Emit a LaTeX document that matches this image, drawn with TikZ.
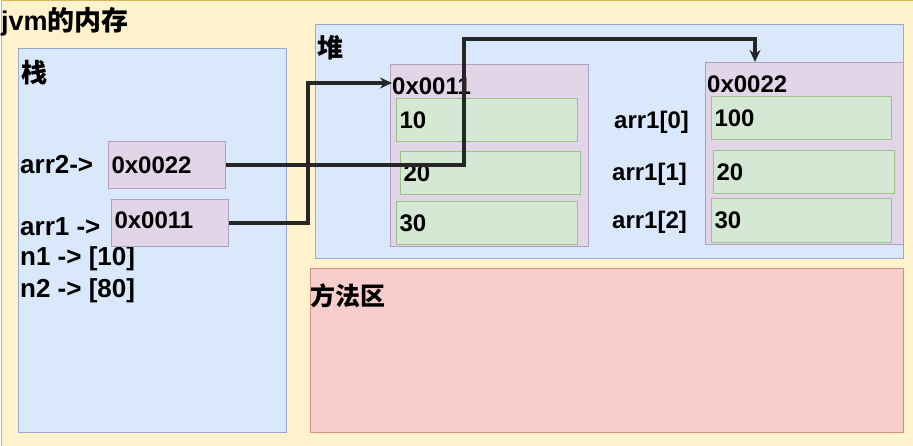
\documentclass[tikz,border=0pt]{standalone}
\usepackage{fontspec}
\setmainfont{Liberation Sans}
\newfontfamily\cjk{Noto Sans CJK SC}
\usetikzlibrary{arrows.meta,positioning}
\definecolor{memfill}{HTML}{FFF2CC}
\definecolor{memline}{HTML}{D6B656}
\definecolor{stackfill}{HTML}{DAE8FC}
\definecolor{stackline}{HTML}{94ABCF}
\definecolor{objfill}{HTML}{E1D5E7}
\definecolor{objline}{HTML}{B49FC4}
\definecolor{cellfill}{HTML}{D5E8D4}
\definecolor{cellline}{HTML}{9CC289}
\definecolor{methfill}{HTML}{F8CECC}
\definecolor{methline}{HTML}{D4907F}

\begin{document}
\begin{tikzpicture}[x=1pt,y=-1pt,
  font=\bfseries\fontsize{24}{26}\selectfont,
  area/.style={draw=#1line,fill=#1fill,line width=1pt,anchor=north west,inner sep=0pt},
  txt/.style={anchor=west,inner sep=0pt},
  big/.style={font=\bfseries\fontsize{26}{28}\selectfont},
  valbox/.style={draw=#1line,fill=#1fill,line width=1pt,anchor=north west,
    align=left,inner xsep=3pt,inner ysep=0pt},
  wire/.style={line width=3.2pt,black!85},
  tip/.style={-{Stealth[length=12pt,width=11pt]}}]
  \useasboundingbox (0,0) rectangle (913,446);
  \node[area=mem,minimum width=912,minimum height=445] (jvm) at (0.5,0.5) {};
  \node[txt,font=\bfseries\fontsize{27}{29}\selectfont] (jvmlbl) at (1,22) {jvm{\cjk 的内存}};

  % stack
  \node[area=stack,minimum width=268,minimum height=384] (stack) at (18,48) {};
  \node[txt,big] (stacklbl) at (21,73) {\cjk 栈};
  \node[txt,big] (arrtwo) at (20,165) {arr2->};
  \node[txt,big] (arrone) at (20,227) {arr1 ->};
  \node[txt,big] (none) at (20,259) {n1 -> [10]};
  \node[txt,big] (ntwo) at (20,291) {n2 -> [80]};
  \node[valbox=obj,text width=111pt,minimum height=47] (ref22) at (108,141) {0x0022};
  \node[valbox=obj,text width=111pt,minimum height=47] (ref11) at (111,199) {\raisebox{6pt}{0x0011}};

  % heap
  \node[area=stack,minimum width=588,minimum height=234] (heap) at (315,24) {};
  \node[txt,big] (heaplbl) at (317,48) {\cjk 堆};

  \node[area=obj,minimum width=198,minimum height=182] (arrA) at (390,64) {};
  \node[txt] (addrA) at (392,86) {0x0011};
  \node[valbox=cell,text width=175pt,minimum height=43] (cellA0) at (396,98) {10};
  \node[valbox=cell,text width=174pt,minimum height=43] (cellA1) at (400,151) {20};
  \node[valbox=cell,text width=175pt,minimum height=43] (cellA2) at (396,201) {30};

  \node[area=obj,minimum width=198,minimum height=182] (arrB) at (705,62) {};
  \node[txt] (addrB) at (707,84) {0x0022};
  \node[valbox=cell,text width=174pt,minimum height=43] (cellB0) at (711,96) {100};
  \node[valbox=cell,text width=175pt,minimum height=43] (cellB1) at (713,150) {20};
  \node[valbox=cell,text width=174pt,minimum height=44] (cellB2) at (711,198) {30};
  \node[txt] (idxB0) at (614,122) {arr1[0]};
  \node[txt] (idxB1) at (612,174) {arr1[1]};
  \node[txt] (idxB2) at (612,222) {arr1[2]};

  % method area
  \node[area=meth,minimum width=593,minimum height=164] (meth) at (310,268) {};
  \node[txt,font=\bfseries\fontsize{25}{27}\selectfont] (methlbl) at (310,296) {\cjk 方法区};

  % references
  \coordinate (bend22) at (464,39);
  \coordinate (drop22) at (755,39);
  \coordinate (bend11) at (308,83);
  \draw[wire,tip] (ref22.east) -| (bend22) -- (drop22) -- (drop22 |- arrB.north);
  \draw[wire,tip] (ref11.east) -| (bend11) -- (bend11 -| addrA.west);
\end{tikzpicture}
\end{document}
